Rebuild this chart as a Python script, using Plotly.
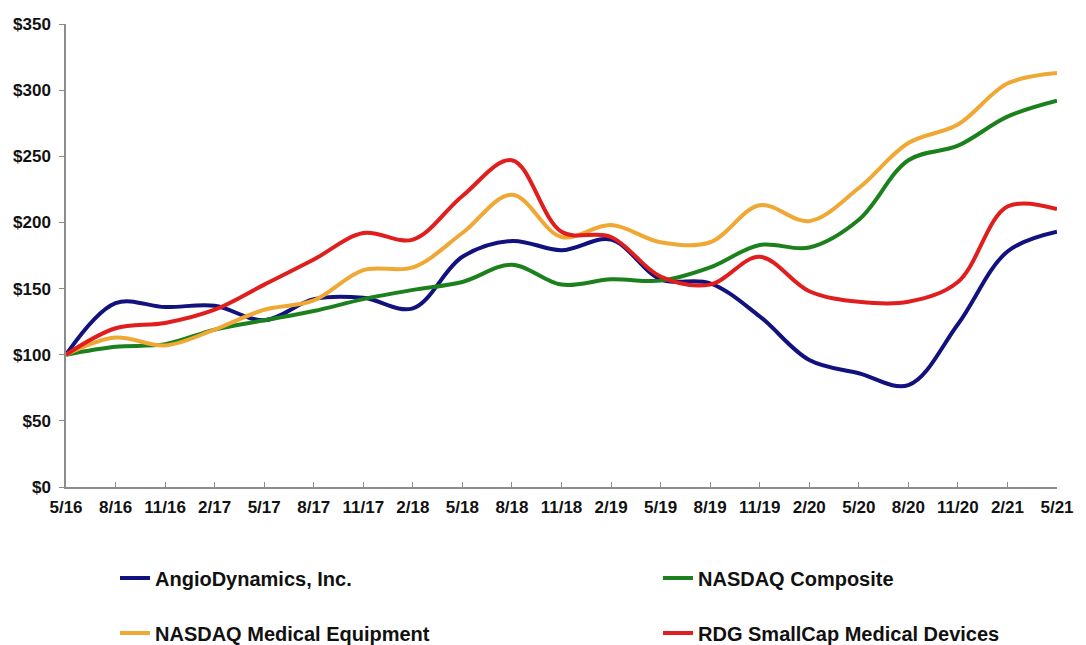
import plotly.graph_objects as go

periods = ["5/16", "8/16", "11/16", "2/17", "5/17", "8/17", "11/17", "2/18", "5/18", "8/18",
           "11/18", "2/19", "5/19", "8/19", "11/19", "2/20", "5/20", "8/20", "11/20", "2/21", "5/21"]

angiodynamics = [100, 139, 136, 137, 126, 142, 143, 135, 174, 186,
                 179, 187, 157, 154, 129, 96, 86, 77, 123, 178, 193]
nasdaq_composite = [100, 106, 108, 119, 126, 133, 142, 149, 155, 168,
                    153, 157, 156, 166, 183, 181, 202, 247, 258, 280, 292]
nasdaq_medical = [100, 113, 107, 119, 134, 141, 164, 166, 192, 221,
                  189, 198, 185, 185, 213, 201, 226, 260, 274, 305, 313]
rdg_smallcap = [100, 120, 124, 134, 153, 172, 192, 187, 220, 247,
                193, 189, 159, 153, 174, 148, 140, 140, 155, 212, 210]

y_tickvals = [0, 50, 100, 150, 200, 250, 300, 350]
y_ticktext = ["$0", "$50", "$100", "$150", "$200", "$250", "$300", "$350"]

series_names = ["AngioDynamics, Inc.", "NASDAQ Composite",
                "NASDAQ Medical Equipment", "RDG SmallCap Medical Devices"]
series_values = [angiodynamics, nasdaq_composite, nasdaq_medical, rdg_smallcap]
series_colors = ["#12127e", "#1c801c", "#f0a834", "#e01e1e"]
legend_ids = ["legend", "legend2", "legend3", "legend4"]
# legend placement (container fractions): two columns, two rows
legend_pos = [(0.1059, 0.1039, "middle"), (0.6059, 0.1039, "middle"),
              (0.1059, 0.0186, "middle"), (0.6059, 0.0186, "middle")]

xs = list(range(len(periods)))
font_family = "Liberation Sans, Arial, sans-serif"

fig = go.Figure()
for name, vals, color, leg in zip(series_names, series_values, series_colors, legend_ids):
    fig.add_trace(go.Scatter(
        x=xs, y=vals, name=name, mode="lines",
        line=dict(color=color, width=4, shape="spline", smoothing=1.0),
        legend=leg,
    ))

legends = {}
for leg, (lx, ly, ya) in zip(legend_ids, legend_pos):
    legends[leg] = dict(
        orientation="h", xref="container", yref="container",
        x=lx, y=ly, xanchor="left", yanchor=ya,
        font=dict(family=font_family, size=20, color="#111111", weight="bold"),
        bgcolor="rgba(0,0,0,0)", itemclick=False, itemdoubleclick=False,
    )

fig.update_layout(
    width=1086, height=645,
    margin=dict(l=66, r=18, t=24, b=158),
    plot_bgcolor="white", paper_bgcolor="white",
    showlegend=True,
    **legends,
    xaxis=dict(
        range=[0, 20], tickvals=xs, ticktext=periods,
        showgrid=False, zeroline=False,
        showline=True, linecolor="#8c8c8c", linewidth=1.5,
        ticks="inside", ticklen=5, tickcolor="#8c8c8c", tickwidth=1,
        ticklabelstandoff=4,
        tickfont=dict(family=font_family, size=17, color="#111111", weight="bold"),
    ),
    yaxis=dict(
        range=[0, 350], tickvals=y_tickvals, ticktext=y_ticktext,
        showgrid=False, zeroline=False,
        showline=True, linecolor="#8c8c8c", linewidth=1.5,
        ticks="outside", ticklen=5, tickcolor="#8c8c8c", tickwidth=1,
        ticklabelstandoff=5,
        tickfont=dict(family=font_family, size=17, color="#111111", weight="bold"),
    ),
)

fig.write_html("out.html")
